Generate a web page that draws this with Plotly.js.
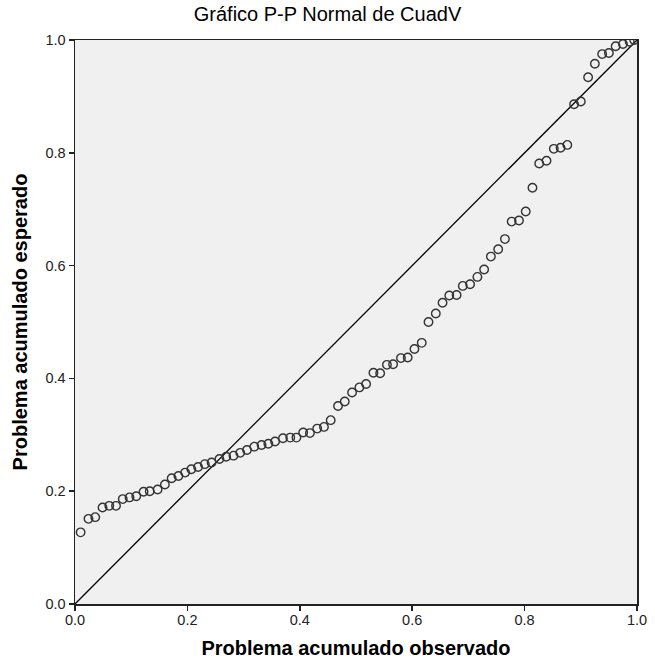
<!DOCTYPE html>
<html>
<head>
<meta charset="utf-8">
<script src="https://cdn.plot.ly/plotly-3.0.1.min.js"></script>
<style>html,body{margin:0;padding:0;background:#fff;}#chart{width:655px;height:669px;}</style>
</head>
<body>
<div id="chart"></div>
<script>
const chartTitle = "Gráfico P-P Normal de CuadV";
const xTitle = "Problema acumulado observado";
const yTitle = "Problema acumulado esperado";
const tickVals = [0, 0.2, 0.4, 0.6, 0.8, 1.0];
const tickLabels = ["0.0", "0.2", "0.4", "0.6", "0.8", "1.0"];
const refLine = [0, 1];

const observed = [
  0.010, 0.024, 0.036, 0.049, 0.061, 0.073, 0.085, 0.097, 0.109, 0.122,
  0.133, 0.147, 0.160, 0.172, 0.184, 0.196, 0.207, 0.219, 0.231, 0.243,
  0.257, 0.269, 0.282, 0.294, 0.306, 0.319, 0.332, 0.344, 0.356, 0.370,
  0.383, 0.394, 0.406, 0.418, 0.431, 0.443, 0.455, 0.468, 0.480, 0.493,
  0.506, 0.518, 0.531, 0.543, 0.555, 0.566, 0.580, 0.592, 0.604, 0.617,
  0.629, 0.642, 0.654, 0.666, 0.679, 0.690, 0.703, 0.716, 0.728, 0.740,
  0.753, 0.765, 0.777, 0.790, 0.802, 0.814, 0.826, 0.839, 0.852, 0.864,
  0.876, 0.888, 0.900, 0.913, 0.925, 0.938, 0.950, 0.962, 0.975, 0.987,
  0.995
];
const expected = [
  0.127, 0.151, 0.154, 0.171, 0.174, 0.174, 0.186, 0.189, 0.191, 0.199,
  0.200, 0.203, 0.212, 0.223, 0.227, 0.233, 0.239, 0.243, 0.248, 0.251,
  0.257, 0.261, 0.263, 0.268, 0.273, 0.279, 0.282, 0.284, 0.288, 0.294,
  0.295, 0.295, 0.304, 0.303, 0.311, 0.314, 0.326, 0.351, 0.359, 0.375,
  0.384, 0.390, 0.410, 0.409, 0.424, 0.425, 0.436, 0.437, 0.452, 0.463,
  0.500, 0.515, 0.534, 0.547, 0.548, 0.564, 0.567, 0.580, 0.593, 0.616,
  0.629, 0.647, 0.678, 0.680, 0.696, 0.738, 0.781, 0.786, 0.807, 0.809,
  0.814, 0.886, 0.891, 0.934, 0.958, 0.975, 0.977, 0.989, 0.993, 0.997,
  1.000
];

const font = "Liberation Sans, Arial, sans-serif";

const traces = [
  {
    x: refLine, y: refLine, type: "scatter", mode: "lines",
    line: {color: "#000000", width: 1.3}, hoverinfo: "skip", showlegend: false
  },
  {
    x: observed, y: expected, type: "scatter", mode: "markers",
    marker: {symbol: "circle-open", size: 8.5, color: "#333333", line: {width: 1.4, color: "#333333"}},
    showlegend: false
  }
];

const axisBase = {
  range: [0, 1],
  tickvals: tickVals,
  ticktext: tickLabels,
  ticks: "outside",
  ticklen: 5,
  tickwidth: 1.5,
  tickcolor: "#222",
  showline: true,
  linecolor: "#222",
  linewidth: 1.5,
  mirror: true,
  showgrid: false,
  zeroline: false,
  tickfont: {family: font, size: 14.5, color: "#222"},
  fixedrange: true
};

const layout = {
  width: 655, height: 669,
  margin: {l: 75, r: 18, t: 40, b: 65},
  paper_bgcolor: "#ffffff",
  plot_bgcolor: "#f0f0f0",
  title: {text: chartTitle, font: {family: font, size: 20, color: "#000"}, x: 0.5, xanchor: "center", y: 0.99, yanchor: "top"},
  xaxis: Object.assign({}, axisBase, {
    ticklabelstandoff: -3,
    title: {text: "<b>" + xTitle + "</b>", font: {family: font, size: 20, color: "#000"}, standoff: 14}
  }),
  yaxis: Object.assign({}, axisBase, {
    title: {text: "<b>" + yTitle + "</b>", font: {family: font, size: 20, color: "#000"}, standoff: 12}
  }),
  showlegend: false
};

Plotly.newPlot("chart", traces, layout, {displayModeBar: false, staticPlot: true});
</script>
</body>
</html>
